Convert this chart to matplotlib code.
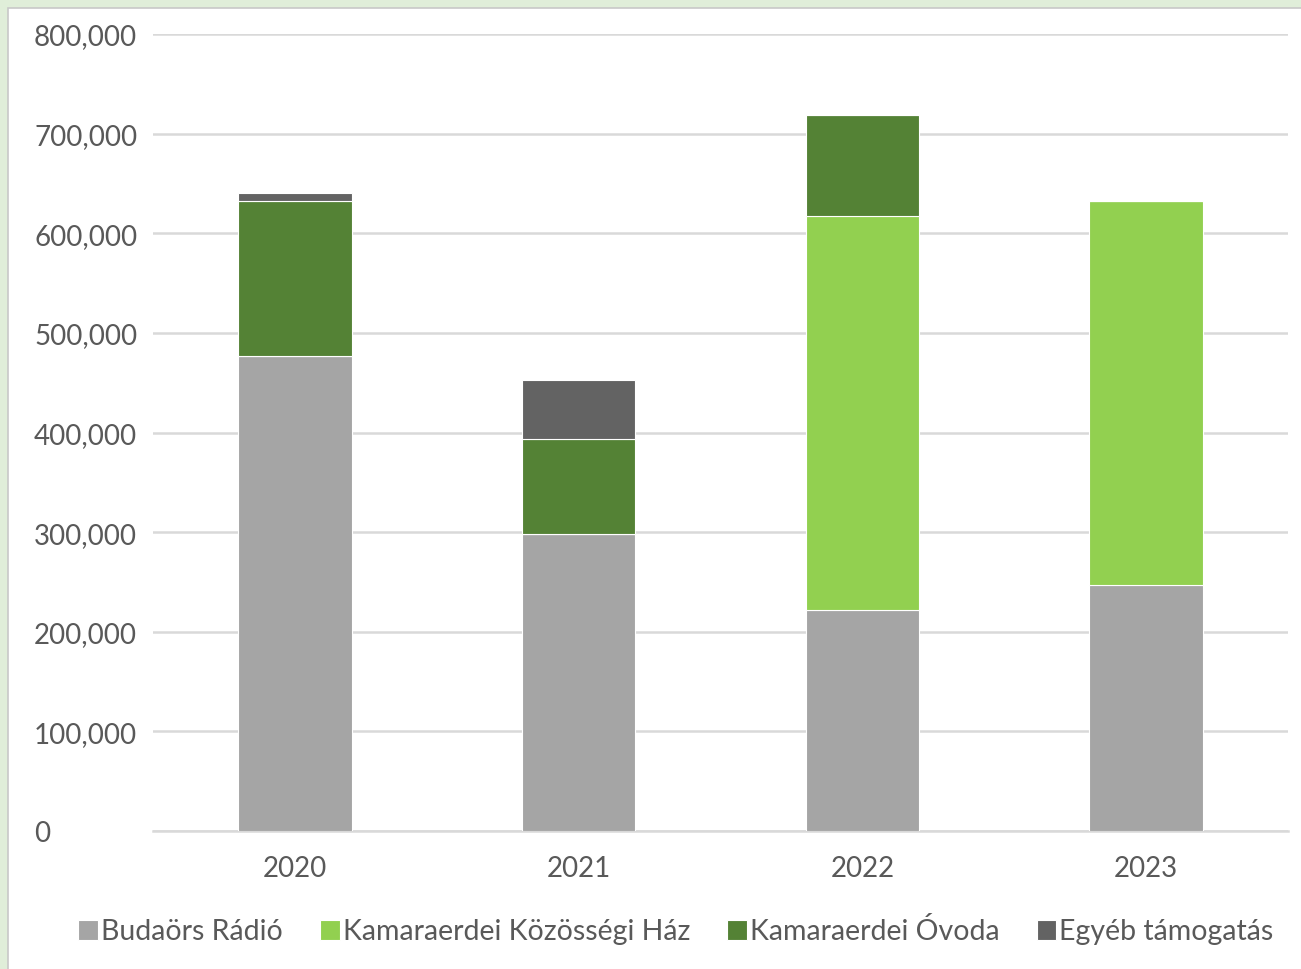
import numpy as np
import matplotlib.pyplot as plt
from matplotlib.patches import Rectangle
from matplotlib.ticker import FuncFormatter

# data
years = ['2020', '2021', '2022', '2023']
budaors_radio = [477000, 298000, 222000, 247000]
kozossegi_haz = [0, 0, 395000, 385000]
ovoda = [155000, 95000, 102000, 0]
egyeb = [8000, 60000, 0, 0]

series = [
    ('Budaörs Rádió', budaors_radio, '#a5a5a5'),
    ('Kamaraerdei Közösségi Ház', kozossegi_haz, '#92d050'),
    ('Kamaraerdei Óvoda', ovoda, '#548235'),
    ('Egyéb támogatás', egyeb, '#636363'),
]

plt.rcParams['font.family'] = ['Lato', 'DejaVu Sans']

fig = plt.figure(figsize=(13.01, 9.70), dpi=100)
fig.patch.set_facecolor('#e0eed9')
# white chart area inside the green frame
fig.patches.append(Rectangle((8 / 1301, -0.01), 1, 1 - 9 / 970 + 0.01,
                             transform=fig.transFigure, facecolor='white',
                             edgecolor='#c8c8c8', linewidth=1.2, zorder=-10))

ax = fig.add_axes([153 / 1301, 1 - 832 / 970, 1135 / 1301, 797 / 970])
ax.set_facecolor('none')

x = np.arange(len(years))
bottom = np.zeros(len(years))
for name, vals, col in series:
    vals = np.array(vals)
    ax.bar(x, vals, width=0.4, bottom=bottom, color=col, label=name,
           edgecolor='white', linewidth=0.8, zorder=3)
    bottom += vals

ax.set_xlim(-0.5, 3.5)
ax.set_ylim(0, 800000)
ax.set_yticks(range(0, 800001, 100000))
ax.yaxis.set_major_formatter(FuncFormatter(lambda v, p: f'{int(v):,}'))
ax.set_xticks(x)
ax.set_xticklabels(years)
ax.grid(axis='y', color='#d9d9d9', linewidth=1.8, zorder=0)
for s in ['top', 'right', 'left']:
    ax.spines[s].set_visible(False)
ax.spines['bottom'].set_color('#d9d9d9')
ax.spines['bottom'].set_linewidth(1.8)
ax.tick_params(axis='both', length=0, labelsize=20, labelcolor='#595959')
# y labels are left aligned at the left edge of the chart
ax.tick_params(axis='y', pad=(153 - 34) * 0.72)
for lbl in ax.get_yticklabels():
    lbl.set_horizontalalignment('left')
ax.tick_params(axis='x', pad=17)

leg = fig.legend(loc='center', bbox_to_anchor=(676 / 1301, 1 - 932 / 970),
                 ncol=4, frameon=False, fontsize=20.5, handlelength=0.7,
                 handleheight=0.7, handletextpad=0.1, columnspacing=1.3)
for t in leg.get_texts():
    t.set_color('#595959')

plt.savefig('out.png', dpi=100, facecolor=fig.get_facecolor())
